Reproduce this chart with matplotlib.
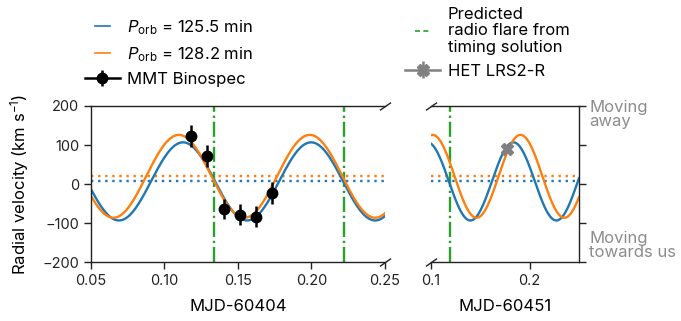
import numpy as np
import matplotlib
matplotlib.use("Agg")
import matplotlib.pyplot as plt
from matplotlib.lines import Line2D
from matplotlib.legend_handler import HandlerLine2D
from matplotlib.ticker import FixedLocator, FormatStrFormatter

plt.rcParams['font.family'] = ['Inter', 'DejaVu Sans']
plt.rcParams['mathtext.fontset'] = 'custom'
plt.rcParams['mathtext.rm'] = 'Inter'
plt.rcParams['mathtext.it'] = 'Inter:italic'

# Orbital solutions (two candidate periods)
period_min = [125.5, 128.2]
gamma_kms = [7.0, 20.0]
semi_amp_kms = [100.0, 106.0]
t_peak_night1 = [0.1126, 0.1098]   # MJD-60404
t_peak_night2 = [0.1835, 0.1907]   # MJD-60451
curve_colors = ['#1f77b4', '#ff7f0e']

# MMT Binospec velocities (MJD-60404)
mmt_t = [0.1182, 0.1290, 0.1402, 0.1514, 0.1624, 0.1731]
mmt_rv = [123, 72, -64, -78, -83, -22]
mmt_err = [29, 28, 26, 26, 27, 28]

# HET LRS2-R velocity (MJD-60451)
het_t = [0.1772]
het_rv = [90]
het_err = [8]

# Predicted radio flares from the timing solution
flare_night1 = [0.1336, 0.2224]
flare_night2 = [0.1194]

fig = plt.figure(figsize=(6.81, 3.21), dpi=100)
ax1 = fig.add_axes([0.1336, 0.1829, 0.4317, 0.4869])
ax2 = fig.add_axes([0.6329, 0.1829, 0.2173, 0.4869])

lw = 1.7
green = '#2ca02c'


def rv_curve(t, i, tpk):
    p_day = period_min[i] / 1440.0
    return gamma_kms[i] + semi_amp_kms[i] * np.cos(2 * np.pi * (t - tpk) / p_day)


for ax, xlim, tpk in [(ax1, (0.05, 0.25), t_peak_night1), (ax2, (0.1, 0.25), t_peak_night2)]:
    t = np.linspace(xlim[0], xlim[1], 800)
    for i in range(2):
        ax.plot(t, rv_curve(t, i, tpk[i]), color=curve_colors[i], lw=lw, zorder=2)
        ax.axhline(gamma_kms[i], color=curve_colors[i], lw=lw, ls=(0, (1, 2)), zorder=1)
    ax.set_xlim(*xlim)
    ax.set_ylim(-200, 200)
    ax.tick_params(direction='out', length=5, width=1, labelsize=10.5, colors='#222222')
    for s in ax.spines.values():
        s.set_linewidth(1)
        s.set_color('#222222')

for x in flare_night1:
    ax1.axvline(x, color=green, lw=lw, ls='-.', zorder=1.5)
for x in flare_night2:
    ax2.axvline(x, color=green, lw=lw, ls='-.', zorder=1.5)

ax1.errorbar(mmt_t, mmt_rv, yerr=mmt_err, fmt='o', color='black', ms=7.5,
             elinewidth=1.8, capsize=0, zorder=4)
ax2.errorbar(het_t, het_rv, yerr=het_err, fmt='X', color='#808080', ms=9,
             elinewidth=1.8, capsize=0, zorder=4)

# left panel
ax1.spines['right'].set_visible(False)
ax1.yaxis.set_major_locator(FixedLocator([-200, -100, 0, 100, 200]))
ax1.xaxis.set_major_locator(FixedLocator([0.05, 0.10, 0.15, 0.20, 0.25]))
ax1.xaxis.set_major_formatter(FormatStrFormatter('%.2f'))
ax1.set_xlabel('MJD-60404', fontsize=12, labelpad=8)
ax1.set_ylabel('Radial velocity (km s$^{-1}$)', fontsize=12, labelpad=8)

# right panel
ax2.spines['left'].set_visible(False)
ax2.yaxis.tick_right()
ax2.yaxis.set_major_locator(FixedLocator([-200, -100, 0, 100, 200]))
ax2.tick_params(axis='y', labelright=False, labelleft=False)
ax2.xaxis.set_major_locator(FixedLocator([0.1, 0.2]))
ax2.xaxis.set_major_formatter(FormatStrFormatter('%.1f'))
ax2.set_xlabel('MJD-60451', fontsize=12, labelpad=8)

# break marks
kw = dict(marker=[(-1, -0.7), (1, 0.7)], markersize=8, linestyle='none',
          color='#222222', mec='#222222', mew=1, clip_on=False)
ax1.plot([1, 1], [0, 1], transform=ax1.transAxes, **kw)
ax2.plot([0, 0], [0, 1], transform=ax2.transAxes, **kw)

# direction annotations
ax2.text(1.07, 1.04, 'Moving\naway', transform=ax2.transAxes, fontsize=12,
         color='#8c8c8c', va='top', ha='left', linespacing=0.95)
ax2.text(1.07, 0.20, 'Moving\ntowards us', transform=ax2.transAxes, fontsize=12,
         color='#8c8c8c', va='top', ha='left', linespacing=0.95)


class ShortLineHandler(HandlerLine2D):
    def __init__(self, frac=0.45, **kwargs):
        super().__init__(**kwargs)
        self.frac = frac

    def create_artists(self, legend, orig_handle, xdescent, ydescent, width,
                       height, fontsize, trans):
        arts = super().create_artists(legend, orig_handle, xdescent, ydescent,
                                      width, height, fontsize, trans)
        for a in arts:
            x = np.asarray(a.get_xdata(), dtype=float)
            c = 0.5 * (x.min() + x.max())
            a.set_xdata(c + (x - c) * self.frac)
        return arts


h_blue = Line2D([], [], color=curve_colors[0], lw=1.2)
h_orange = Line2D([], [], color=curve_colors[1], lw=1.2)
h_mmt = ax1.errorbar([], [], yerr=[], fmt='o', color='black', ms=7.5,
                     elinewidth=1.8, lw=1.8, ls='-', capsize=0)
h_flare = Line2D([], [], color=green, lw=1.2, ls=(0, (3, 2)))
h_het = ax2.errorbar([], [], yerr=[], fmt='X', color='#808080', ms=9,
                     elinewidth=1.8, lw=1.8, ls='-', capsize=0)

leg1 = fig.legend([h_blue, h_orange, h_mmt],
                  [r'$P_{\rm orb}$ = 125.5 min', r'$P_{\rm orb}$ = 128.2 min', 'MMT Binospec'],
                  handler_map={h_blue: ShortLineHandler(), h_orange: ShortLineHandler()},
                  loc='upper left', bbox_to_anchor=(0.115, 0.965), frameon=False,
                  fontsize=12, handlelength=2.1, handletextpad=0.45, labelspacing=0.5,
                  borderaxespad=0)
leg2 = fig.legend([h_flare, h_het],
                  ['Predicted\nradio flare from\ntiming solution', 'HET LRS2-R'],
                  handler_map={h_flare: ShortLineHandler()},
                  loc='upper left', bbox_to_anchor=(0.585, 1.0), frameon=False,
                  fontsize=12, handlelength=2.1, handletextpad=0.45, labelspacing=0.5,
                  borderaxespad=0)
leg2.get_texts()[0].set_linespacing(1.15)

fig.savefig('out.png', dpi=100)
